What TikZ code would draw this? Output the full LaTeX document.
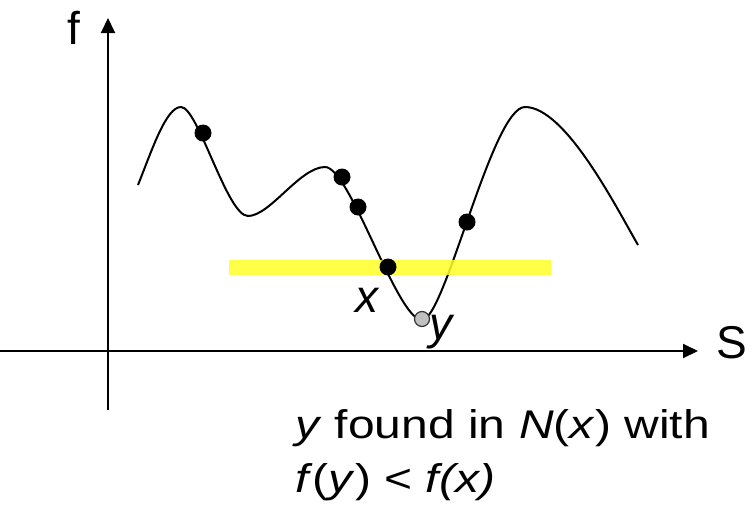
\documentclass[tikz,border=0pt]{standalone}
\usepackage{fontspec}
\setmainfont{Liberation Sans}
\newfontfamily\bodyfont[FakeStretch=1.2]{Liberation Sans}
\usetikzlibrary{arrows.meta}
\definecolor{band}{RGB}{255,255,40}
\definecolor{graydot}{RGB}{192,192,192}
\tikzset{
  axis/.style={line width=2pt,-{Triangle[length=15pt,width=14pt]}},
  curve/.style={line width=2pt},
  blackdot/.style={circle,fill=black,inner sep=0pt,minimum size=17pt},
  greydot/.style={circle,fill=graydot,draw=black!80,line width=1.2pt,inner sep=0pt,minimum size=15pt},
  lbl/.style={inner sep=0pt,font=\fontsize{46}{50}\selectfont},
  body/.style={inner sep=0pt,anchor=base west,font=\bodyfont\fontsize{40}{54}\selectfont}
}
\begin{document}
\begin{tikzpicture}[x=1pt,y=-1pt]
\useasboundingbox (0,0) rectangle (753,507);
% axes
\coordinate (ybot) at (108,410);
\coordinate (ytop) at (108,18);
\coordinate (xl) at (0,351);
\coordinate (xr) at (698,351);
\draw[axis] (ybot) -- (ytop);
\draw[axis] (xl) -- (xr);
\node[lbl] (flab) at (74,28) {f};
\node[lbl] (slab) at (732,343) {S};
% curve
\coordinate (cs) at (138,185);
\coordinate (p1) at (181,107);
\coordinate (v1) at (248,216);
\coordinate (p2) at (325,167);
\coordinate (m) at (422,320);
\coordinate (p3) at (525,107);
\coordinate (ce) at (638,245);
\draw[curve] (cs) .. controls (152,150) and (166,107) .. (p1)
  .. controls (198,107) and (227,216) .. (v1)
  .. controls (270,216) and (300,167) .. (p2)
  .. controls (350,167) and (397,320) .. (m)
  .. controls (445,320) and (492,107) .. (p3)
  .. controls (565,107) and (615,205) .. (ce);
% yellow band
\fill[band,opacity=0.85] (229,260) rectangle (551,275);
% dots
\node[blackdot] (d1) at (203,133) {};
\node[blackdot] (d2) at (342,177) {};
\node[blackdot] (d3) at (358,207) {};
\node[blackdot] (dx) at (388,267) {};
\node[blackdot] (d4) at (467,222) {};
\node[greydot] (dy) at (422,319) {};
\node[lbl] (xlab) at (368,300) {\textit{x}};
\node[lbl] (ylab) at (442,332) {\textit{y}};
% text
\node[body] (line1) at (295,438) {\textit{y} found in \textit{N}(\textit{x}) with};
\node[body] (line2) at (295,492) {\textit{f}(\textit{y}) < \textit{f(x)}};
\end{tikzpicture}
\end{document}
